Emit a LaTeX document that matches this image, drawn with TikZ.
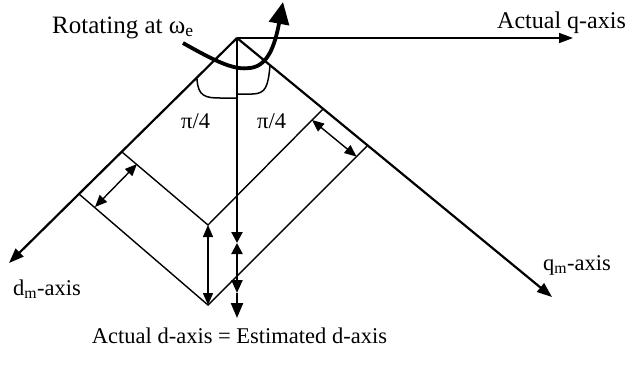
\documentclass[tikz,border=0pt]{standalone}
\usepackage{fontspec}
\setmainfont{Liberation Serif}
\usetikzlibrary{arrows.meta}
\begin{document}
\begin{tikzpicture}[x=1pt,y=-1pt,
  axis/.style={line width=2.2pt},
  thinl/.style={line width=1.4pt},
  tipend/.style={-{Triangle[length=15pt,width=11pt]}},
  dbl/.style={{Triangle[length=12pt,width=10pt]}-{Triangle[length=12pt,width=10pt]}},
  lbl/.style={inner sep=0pt, anchor=base west}]
\useasboundingbox (0,0) rectangle (634,365);
% axes
\coordinate (O) at (237,38);
\coordinate (qtip) at (573,38);
\coordinate (dtip) at (237,318);
\coordinate (dmtip) at (9,263);
\coordinate (qmtip) at (552,297);
\coordinate (d1) at (237,243);
\coordinate (d2) at (237,293);
% projection points
\coordinate (A1) at (122,152);
\coordinate (A2) at (79,194);
\coordinate (V1) at (208,225);
\coordinate (V2) at (208,305);
\coordinate (B1) at (323,109);
\coordinate (B2) at (367,146);
\coordinate (Da) at (137,164);
\coordinate (Db) at (95,207);
\coordinate (Ea) at (312,120);
\coordinate (Eb) at (356.5,156.6);
% angle arcs
\coordinate (L1) at (197,79);
\coordinate (L2) at (237,98);
\coordinate (R1) at (237,94);
\coordinate (R2) at (270,66);
% rotation arrow
\coordinate (rs) at (183,43);
\coordinate (rm) at (250,68);
\coordinate (re) at (283,2);

\draw[line width=1.7pt, -{Triangle[length=14pt,width=10pt]}] (O) -- (qtip);
\draw[axis, tipend] (O) -- (dmtip);
\draw[axis, tipend] (O) -- (qmtip);
\draw[axis, -{Triangle[length=11pt,width=11pt]}] (O) -- (d1);
\draw[axis, {Triangle[length=11pt,width=11pt]}-{Triangle[length=13pt,width=11pt]}] (d1) -- (d2);
\draw[axis, -{Triangle[length=15pt,width=12pt]}] (d2) -- (dtip);

\draw[thinl] (A1) -- (V1) -- (B1);
\draw[thinl] (A2) -- (V2) -- (B2);
\draw[thinl, dbl] (Da) -- (Db);
\draw[thinl, dbl] (Ea) -- (Eb);
\draw[thinl, dbl] (V1) -- (V2);

\draw[line width=1.5pt] (L1) .. controls (198,96) and (205,98) .. (220,98) -- (L2);
\draw[line width=1.5pt] (R1) -- (252,94) .. controls (266,94) and (268,86) .. (R2);

\draw[line width=3.8pt, -{Triangle[length=22pt,width=20pt]}] (rs) .. controls (220,64) and (235,70) .. (rm) .. controls (268,66) and (275,45) .. (re);

\node[lbl, font=\fontsize{25}{28}\selectfont] (rotlbl) at (52,33) {Rotating at ω\textsubscript{e}};
\node[lbl, font=\fontsize{24}{27}\selectfont] (qlbl) at (497,28) {Actual q-axis};
\node[lbl, font=\fontsize{22.5}{25}\selectfont] (pil) at (181,128) {π/4};
\node[lbl, font=\fontsize{22.5}{25}\selectfont] (pir) at (257,128) {π/4};
\node[lbl, font=\fontsize{22.5}{25}\selectfont] (dmlbl) at (13,295) {d\textsubscript{m}-axis};
\node[lbl, font=\fontsize{22.5}{25}\selectfont] (qmlbl) at (543,270) {q\textsubscript{m}-axis};
\node[inner sep=0pt, anchor=base, font=\fontsize{22.5}{25}\selectfont] (dlbl) at (239.5,343) {Actual d-axis = Estimated d-axis};
\end{tikzpicture}
\end{document}
